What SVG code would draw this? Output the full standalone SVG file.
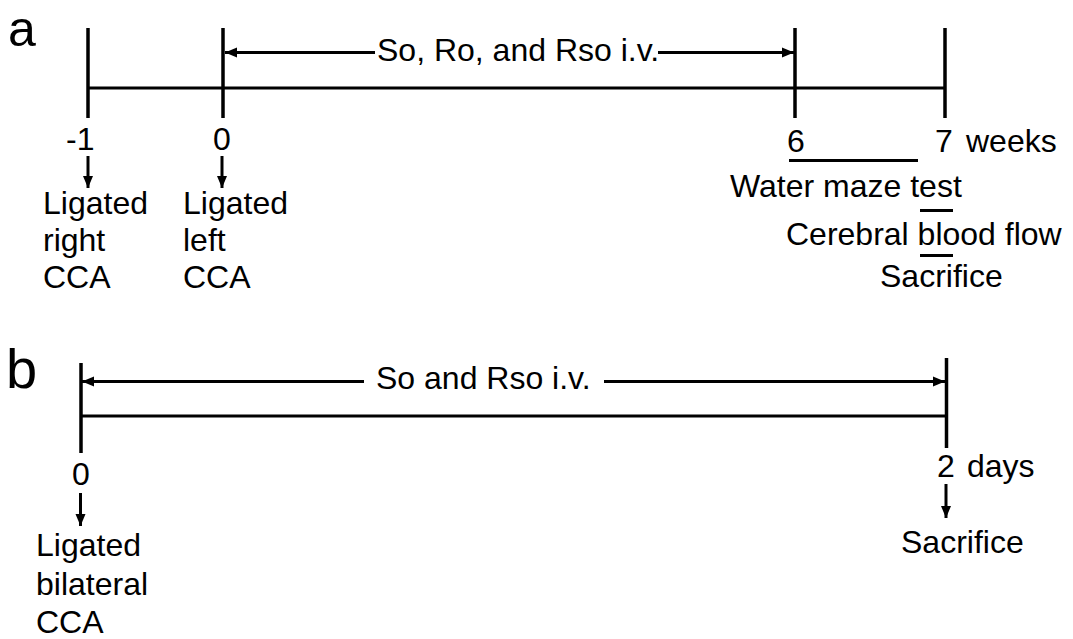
<svg xmlns="http://www.w3.org/2000/svg" width="1073" height="639" viewBox="0 0 1073 639">
<style>
text{font-family:"Liberation Sans",Arial,sans-serif;font-size:32px;fill:#000}
.panel{font-size:56px}
.panel-a{font-size:50px}
.ax{stroke:#000;stroke-width:3;fill:none}
.tk{stroke:#000;stroke-width:3.5;fill:none}
.ar{stroke:#000;stroke-width:3;fill:none}
.ul{stroke:#000;stroke-width:3;fill:none}
.mid{text-anchor:middle}
</style>
<defs>
<marker id="ah" markerUnits="userSpaceOnUse" markerWidth="14" markerHeight="11" refX="12" refY="5.5" orient="auto">
<polygon points="0,0.5 12,5.5 0,10.5" fill="#000"/>
</marker>
</defs>
<g id="panel-a">
<text id="label-a" class="panel-a" x="8" y="45.5">a</text>
<g id="a-timeline">
<line class="ax" x1="88" y1="88" x2="945" y2="88"/>
<line class="tk" x1="88" y1="28" x2="88" y2="118"/>
<line class="tk" x1="223" y1="28" x2="223" y2="118"/>
<line class="tk" x1="795" y1="28" x2="795" y2="118"/>
<line class="tk" x1="945" y1="28" x2="945" y2="118"/>
</g>
<g id="a-treatment"><text x="377" y="61">So, Ro, and Rso i.v.</text></g>
<g id="a-t-1"><text x="66" y="150">-1</text></g>
<g id="a-t0"><text class="mid" x="222" y="150">0</text></g>
<g id="a-t6"><text class="mid" x="796" y="152">6</text></g>
<g id="a-t7"><text class="mid" x="944" y="152">7</text><text x="966" y="152">weeks</text></g>
<g id="a-right-cca"><text x="43" y="214">Ligated</text><text x="43" y="251">right</text><text x="43" y="288">CCA</text></g>
<g id="a-left-cca"><text x="183" y="214">Ligated</text><text x="183" y="251">left</text><text x="183" y="288">CCA</text></g>
<g id="a-tests">
<line class="ul" x1="789" y1="160.5" x2="918" y2="160.5"/>
<text x="730" y="197">Water maze test</text>
<line class="ul" x1="920" y1="210.5" x2="953" y2="210.5"/>
<text x="786" y="245">Cerebral blood flow</text>
<line class="ul" x1="920" y1="255.5" x2="953" y2="255.5"/>
<text x="880" y="287">Sacrifice</text>
</g>
</g>
<g id="panel-b">
<text id="label-b" class="panel" x="6" y="388">b</text>
<g id="b-timeline">
<line class="ax" x1="81" y1="416" x2="946" y2="416"/>
<line class="tk" x1="81" y1="363" x2="81" y2="453"/>
<line class="tk" x1="946.5" y1="358" x2="946.5" y2="448"/>
</g>
<g id="b-treatment"><text x="376" y="389">So and Rso i.v.</text></g>
<g id="b-t0"><text class="mid" x="81" y="485">0</text></g>
<g id="b-t2"><text class="mid" x="946" y="477">2</text><text x="967" y="477">days</text></g>
<g id="b-bilateral"><text x="36" y="556">Ligated</text><text x="36" y="595">bilateral</text><text x="36" y="633">CCA</text></g>
<g id="b-sacrifice"><text x="901" y="553">Sacrifice</text></g>
</g>
<g id="connectors">
<line class="ar" x1="375" y1="52.5" x2="225" y2="52.5" marker-end="url(#ah)"/>
<line class="ar" x1="658" y1="52.5" x2="794" y2="52.5" marker-end="url(#ah)"/>
<line class="ar" x1="88" y1="156" x2="88" y2="188" marker-end="url(#ah)"/>
<line class="ar" x1="222" y1="156" x2="222" y2="188" marker-end="url(#ah)"/>
<line class="ar" x1="364" y1="381.5" x2="82" y2="381.5" marker-end="url(#ah)"/>
<line class="ar" x1="604" y1="381.5" x2="945" y2="381.5" marker-end="url(#ah)"/>
<line class="ar" x1="80.5" y1="493" x2="80.5" y2="526" marker-end="url(#ah)"/>
<line class="ar" x1="946" y1="484" x2="946" y2="518" marker-end="url(#ah)"/>
</g>
</svg>
